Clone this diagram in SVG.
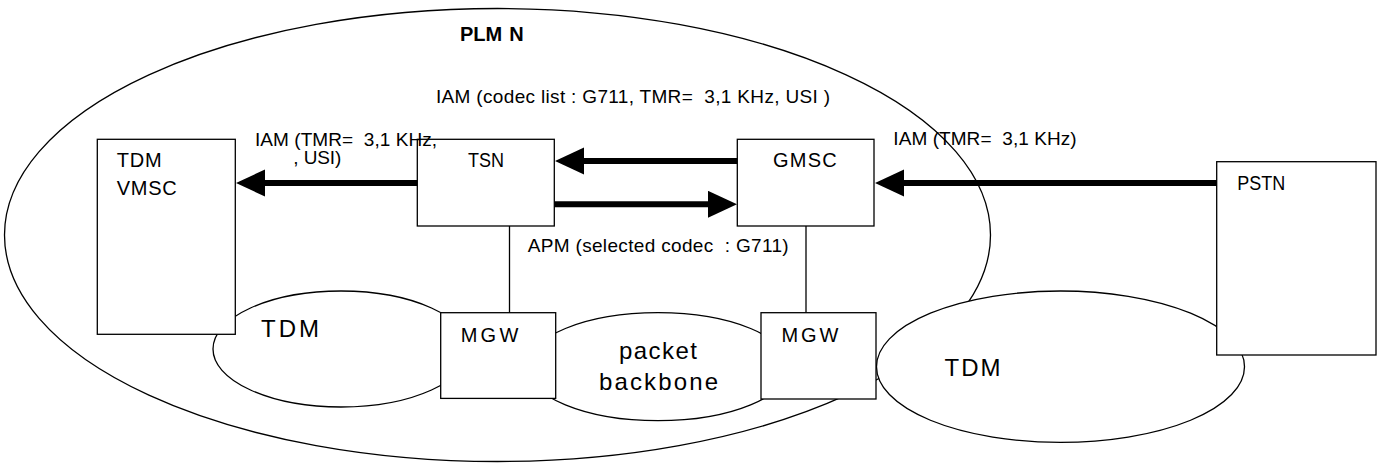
<svg xmlns="http://www.w3.org/2000/svg" width="1384" height="463" viewBox="0 0 1384 463">
<defs>
<marker id="ah" markerUnits="userSpaceOnUse" markerWidth="30" markerHeight="28" refX="4" refY="13.5" orient="auto"><path d="M0,0 L29,13.5 L0,27 z" fill="#000"/></marker>
</defs>
<style>
.shape{fill:#fff;stroke:#000;stroke-width:1.3}
.lbl{font-family:"Liberation Sans",Arial,sans-serif;font-size:19px;fill:#000}
.node{font-size:20px}
.big{font-size:24px}
.bold{font-weight:bold;font-size:20px}
.conn{stroke:#000;stroke-width:6;fill:none;marker-end:url(#ah)}
.thin{stroke:#000;stroke-width:1.3;fill:none}
</style>
<rect width="1384" height="463" fill="#fff"/>
<g id="plmn">
<ellipse class="shape" cx="497.5" cy="235" rx="493" ry="226.5"/>
<text class="lbl bold" x="460" y="41">PLM<tspan dx="7">N</tspan></text>
</g>
<g id="links">
<line class="thin" x1="509.5" y1="226" x2="509.5" y2="313"/>
<line class="thin" x1="806" y1="226" x2="806" y2="313"/>
</g>
<g id="tdm-left">
<ellipse class="shape" cx="341" cy="349" rx="128" ry="58"/>
<text class="lbl big" x="261" y="337" textLength="58" lengthAdjust="spacing">TDM</text>
</g>
<g id="packet-backbone">
<ellipse class="shape" cx="658" cy="366.7" rx="131" ry="54"/>
<text class="lbl big" x="619" y="359" textLength="78" lengthAdjust="spacing">packet</text>
<text class="lbl big" x="599" y="390" textLength="119" lengthAdjust="spacing">backbone</text>
</g>
<g id="tdm-right">
<ellipse class="shape" cx="1060.5" cy="366.7" rx="184" ry="75.7"/>
<text class="lbl big" x="944.5" y="376" textLength="56" lengthAdjust="spacing">TDM</text>
</g>
<g id="vmsc">
<rect class="shape" x="97.3" y="139.3" width="138" height="195"/>
<text class="lbl node" x="116.7" y="167" textLength="45" lengthAdjust="spacing">TDM</text>
<text class="lbl node" x="116.7" y="195" textLength="60" lengthAdjust="spacing">VMSC</text>
</g>
<g id="tsn">
<rect class="shape" x="417.3" y="139.3" width="137" height="86.7"/>
<text class="lbl node" x="468" y="167.3" textLength="36" lengthAdjust="spacingAndGlyphs">TSN</text>
</g>
<g id="gmsc">
<rect class="shape" x="737.3" y="139.3" width="136.7" height="86.7"/>
<text class="lbl node" x="773" y="167.3" textLength="63.7" lengthAdjust="spacing">GMSC</text>
</g>
<g id="pstn">
<rect class="shape" x="1216.7" y="161.7" width="159.3" height="193.3"/>
<text class="lbl node" x="1237.3" y="190" textLength="48" lengthAdjust="spacingAndGlyphs">PSTN</text>
</g>
<g id="mgw1">
<rect class="shape" x="440.7" y="312.7" width="115" height="85.7"/>
<text class="lbl node" x="460.7" y="342.3" textLength="57.6" lengthAdjust="spacing">MGW</text>
</g>
<g id="mgw2">
<rect class="shape" x="761" y="312.7" width="115" height="86.3"/>
<text class="lbl node" x="781.5" y="341.7" textLength="57" lengthAdjust="spacing">MGW</text>
</g>
<g id="connectors">
<line class="conn" x1="417.3" y1="183" x2="261" y2="183"/>
<line class="conn" x1="737.3" y1="161" x2="580" y2="161"/>
<line class="conn" x1="554.3" y1="204.3" x2="712" y2="204.3"/>
<line class="conn" x1="1216.7" y1="183" x2="900" y2="183"/>
<text class="lbl" x="436" y="102.7" textLength="394" lengthAdjust="spacing" xml:space="preserve">IAM (codec list : G711, TMR=  3,1 KHz, USI )</text>
<text class="lbl" x="255" y="146" textLength="182" lengthAdjust="spacing" xml:space="preserve">IAM (TMR=  3,1 KHz,</text>
<text class="lbl" x="293.3" y="164" textLength="48" lengthAdjust="spacing">, USI)</text>
<text class="lbl" x="893.3" y="145.3" textLength="183.4" lengthAdjust="spacing" xml:space="preserve">IAM (TMR=  3,1 KHz)</text>
<text class="lbl" x="527.7" y="251.7" textLength="261" lengthAdjust="spacing" xml:space="preserve">APM (selected codec  : G711)</text>
</g>
</svg>
